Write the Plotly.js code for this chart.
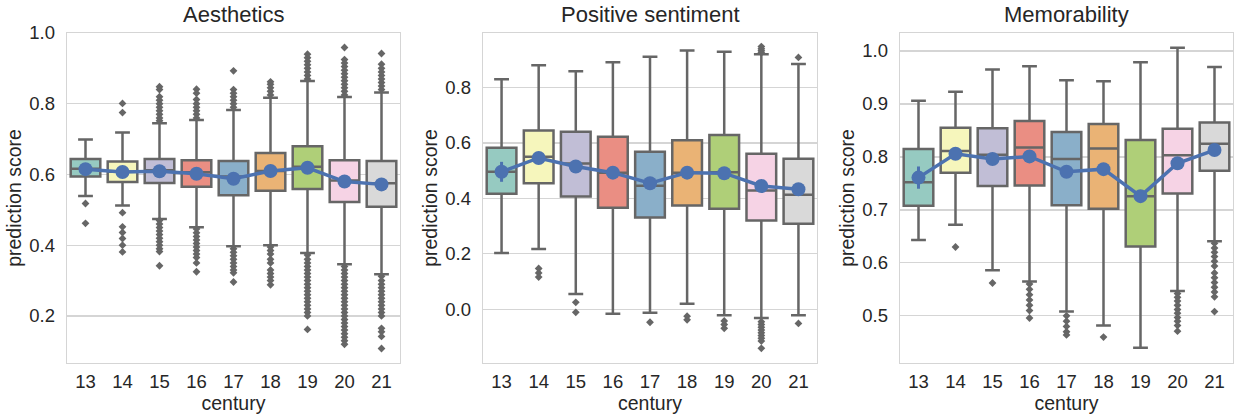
<!DOCTYPE html>
<html>
<head>
<meta charset="utf-8">
<script src="https://cdn.plot.ly/plotly-3.0.1.min.js"></script>
<style>html,body{margin:0;padding:0;background:#fff}#chart{width:1234px;height:415px}</style>
</head>
<body>
<div id="chart"></div>
<script>
// ---------- data ----------
const centuries = ['13','14','15','16','17','18','19','20','21'];
const titles = ['Aesthetics','Positive sentiment','Memorability'];
const boxColors = ['#96cac1','#f6f6bc','#c1bed6','#ea8e83','#8aafc9','#eab375','#afcf78','#f6d3e5','#d9d9d9'];

// Aesthetics
const aesQ1   = [0.594, 0.579, 0.576, 0.565, 0.541, 0.554, 0.559, 0.522, 0.509];
const aesMed  = [0.616, 0.608, 0.612, 0.606, 0.594, 0.610, 0.622, 0.583, 0.575];
const aesQ3   = [0.644, 0.637, 0.644, 0.640, 0.638, 0.661, 0.680, 0.640, 0.638];
const aesLo   = [0.539, 0.512, 0.474, 0.451, 0.397, 0.400, 0.378, 0.346, 0.318];
const aesHi   = [0.699, 0.719, 0.745, 0.754, 0.782, 0.817, 0.864, 0.819, 0.832];
const aesMean = [0.615, 0.607, 0.609, 0.602, 0.588, 0.610, 0.619, 0.580, 0.572];
const aesErr  = [0.010, 0.006, 0.004, 0.004, 0.004, 0.004, 0.003, 0.003, 0.004];
const aesOut = [
  [0.518, 0.462],
  [0.801, 0.775, 0.492, 0.452, 0.436, 0.419, 0.400, 0.381],
  [0.848, 0.840, 0.820, 0.810, 0.800, 0.790, 0.780, 0.770, 0.760, 0.752, 0.470, 0.460, 0.450, 0.440, 0.430, 0.420, 0.410, 0.400, 0.390, 0.382, 0.342],
  [0.841, 0.830, 0.812, 0.800, 0.790, 0.780, 0.770, 0.760, 0.446, 0.435, 0.425, 0.415, 0.405, 0.395, 0.385, 0.375, 0.365, 0.350, 0.325],
  [0.893, 0.840, 0.830, 0.820, 0.810, 0.800, 0.790, 0.390, 0.380, 0.370, 0.360, 0.350, 0.340, 0.330, 0.322, 0.296],
  [0.862, 0.855, 0.845, 0.835, 0.825, 0.395, 0.385, 0.375, 0.360, 0.350, 0.330, 0.320, 0.310, 0.300, 0.288],
  [0.940, 0.930, 0.920, 0.910, 0.900, 0.890, 0.880, 0.870, 0.372, 0.360, 0.350, 0.340, 0.330, 0.320, 0.310, 0.300, 0.290, 0.280, 0.270, 0.260, 0.250, 0.240, 0.230, 0.220, 0.210, 0.200, 0.162],
  [0.959, 0.925, 0.915, 0.905, 0.895, 0.885, 0.875, 0.865, 0.855, 0.845, 0.835, 0.825, 0.340, 0.330, 0.320, 0.310, 0.300, 0.290, 0.280, 0.270, 0.260, 0.250, 0.240, 0.230, 0.220, 0.210, 0.200, 0.190, 0.180, 0.170, 0.160, 0.150, 0.140, 0.130, 0.120],
  [0.942, 0.912, 0.900, 0.890, 0.880, 0.870, 0.860, 0.850, 0.840, 0.312, 0.300, 0.290, 0.280, 0.270, 0.260, 0.250, 0.240, 0.230, 0.220, 0.210, 0.200, 0.165, 0.155, 0.142, 0.108]
];

// Positive sentiment
const posQ1   = [0.417, 0.455, 0.407, 0.366, 0.331, 0.374, 0.363, 0.320, 0.309];
const posMed  = [0.496, 0.550, 0.526, 0.493, 0.446, 0.493, 0.494, 0.429, 0.413];
const posQ3   = [0.583, 0.645, 0.641, 0.623, 0.568, 0.610, 0.629, 0.561, 0.543];
const posLo   = [0.203, 0.217, 0.055, -0.016, -0.013, 0.020, -0.022, -0.032, -0.022];
const posHi   = [0.830, 0.881, 0.859, 0.891, 0.911, 0.934, 0.929, 0.920, 0.885];
const posMean = [0.496, 0.546, 0.515, 0.493, 0.455, 0.493, 0.491, 0.445, 0.433];
const posErr  = [0.036, 0.012, 0.008, 0.006, 0.006, 0.006, 0.005, 0.004, 0.006];
const posOut = [
  [],
  [0.147, 0.131, 0.116],
  [0.025, -0.011],
  [],
  [-0.047],
  [-0.025, -0.038],
  [-0.042, -0.055, -0.069],
  [0.948, 0.940, 0.933, 0.926, -0.045, -0.055, -0.065, -0.075, -0.085, -0.095, -0.105, -0.115, -0.141],
  [0.909, -0.051]
];

// Memorability
const memQ1   = [0.708, 0.770, 0.745, 0.746, 0.709, 0.702, 0.631, 0.731, 0.774];
const memMed  = [0.752, 0.811, 0.804, 0.818, 0.796, 0.816, 0.726, 0.803, 0.825];
const memQ3   = [0.815, 0.855, 0.854, 0.868, 0.847, 0.862, 0.832, 0.853, 0.865];
const memLo   = [0.643, 0.672, 0.586, 0.565, 0.508, 0.482, 0.440, 0.547, 0.641];
const memHi   = [0.906, 0.923, 0.965, 0.971, 0.945, 0.943, 0.979, 1.006, 0.970];
const memMean = [0.761, 0.806, 0.796, 0.801, 0.772, 0.777, 0.726, 0.788, 0.813];
const memErr  = [0.021, 0.008, 0.005, 0.004, 0.004, 0.004, 0.004, 0.003, 0.004];
const memOut = [
  [],
  [0.630],
  [0.562],
  [0.560, 0.550, 0.540, 0.530, 0.520, 0.510, 0.496],
  [0.500, 0.490, 0.480, 0.470, 0.464],
  [0.460],
  [],
  [0.542, 0.535, 0.528, 0.520, 0.512, 0.505, 0.497, 0.490, 0.482, 0.471],
  [0.637, 0.628, 0.620, 0.612, 0.603, 0.594, 0.581, 0.572, 0.563, 0.554, 0.545, 0.536, 0.508]
];

// ---------- build ----------
const panels = [
  {q1: aesQ1, med: aesMed, q3: aesQ3, lo: aesLo, hi: aesHi, mean: aesMean, err: aesErr, out: aesOut, range: [0.067, 1.0], dtick: 0.2, tick0: 0.2},
  {q1: posQ1, med: posMed, q3: posQ3, lo: posLo, hi: posHi, mean: posMean, err: posErr, out: posOut, range: [-0.194, 0.997], dtick: 0.2, tick0: 0.0},
  {q1: memQ1, med: memMed, q3: memQ3, lo: memLo, hi: memHi, mean: memMean, err: memErr, out: memOut, range: [0.411, 1.034], dtick: 0.1, tick0: 0.5}
];
const xDomains = [[67/1234, 400/1234], [483/1234, 817/1234], [900/1234, 1233/1234]];
const yDomain = [1 - 363/415, 1 - 33/415];
const edge = '#666666';
const fontFam = '"Liberation Sans", Arial, sans-serif';
const textCol = '#262626';

const traces = [];
const layout = {
  width: 1234, height: 415,
  margin: {l: 0, r: 0, t: 0, b: 0},
  paper_bgcolor: '#ffffff', plot_bgcolor: '#ffffff',
  showlegend: false,
  font: {family: fontFam, color: textCol},
  annotations: []
};

panels.forEach((p, i) => {
  const sfx = i === 0 ? '' : String(i + 1);
  const xa = 'x' + sfx, ya = 'y' + sfx;
  centuries.forEach((c, j) => {
    traces.push({
      type: 'box', xaxis: xa, yaxis: ya,
      x: [c], q1: [p.q1[j]], median: [p.med[j]], q3: [p.q3[j]],
      lowerfence: [p.lo[j]], upperfence: [p.hi[j]],
      width: 0.8, whiskerwidth: 0.5,
      fillcolor: boxColors[j],
      line: {color: edge, width: 2.5},
      hoverinfo: 'skip'
    });
  });
  const ox = [], oy = [];
  centuries.forEach((c, j) => { p.out[j].forEach(v => { ox.push(c); oy.push(v); }); });
  traces.push({
    type: 'scatter', mode: 'markers', xaxis: xa, yaxis: ya,
    x: ox, y: oy,
    marker: {symbol: 'diamond', size: 6, color: edge, line: {width: 0}},
    hoverinfo: 'skip'
  });
  traces.push({
    type: 'scatter', mode: 'lines+markers', xaxis: xa, yaxis: ya,
    x: centuries, y: p.mean,
    line: {color: '#4c72b0', width: 3.5},
    marker: {size: 14, color: '#4c72b0'},
    error_y: {type: 'data', array: p.err, visible: true, color: '#4c72b0', thickness: 3, width: 0}
  });

  layout['xaxis' + sfx] = {
    domain: xDomains[i], anchor: ya,
    type: 'category', range: [-0.5, 8.5],
    showgrid: false, zeroline: false,
    showline: true, mirror: true, linecolor: '#d5d5d5', linewidth: 1.3,
    ticks: 'outside', ticklen: 1, tickcolor: 'rgba(0,0,0,0)',
    tickfont: {size: 18.5, family: fontFam, color: textCol},
    title: {text: 'century', font: {size: 19.5, family: fontFam, color: textCol}, standoff: 3}
  };
  layout['yaxis' + sfx] = {
    domain: yDomain, anchor: xa,
    range: p.range, tick0: p.tick0, dtick: p.dtick, tickformat: '.1f',
    showgrid: true, gridcolor: '#d5d5d5', gridwidth: 1.2,
    zeroline: false,
    showline: true, mirror: true, linecolor: '#d5d5d5', linewidth: 1.3,
    ticks: 'outside', ticklen: 7, tickcolor: 'rgba(0,0,0,0)',
    tickfont: {size: 18.5, family: fontFam, color: textCol},
    title: {text: 'prediction score', font: {size: 19.5, family: fontFam, color: textCol}, standoff: 2}
  };
  layout.annotations.push({
    text: titles[i], xref: 'paper', yref: 'paper',
    x: (xDomains[i][0] + xDomains[i][1]) / 2, y: 1 - 29/415,
    xanchor: 'center', yanchor: 'bottom', showarrow: false,
    font: {size: 22, family: fontFam, color: textCol}
  });
});

Plotly.newPlot('chart', traces, layout, {staticPlot: true, displayModeBar: false});
</script>
</body>
</html>
